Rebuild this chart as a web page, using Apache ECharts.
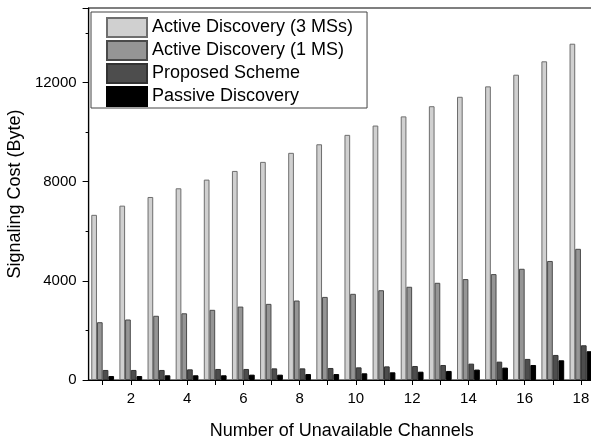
<!DOCTYPE html>
<html>
<head>
<meta charset="utf-8">
<script src="https://cdn.jsdelivr.net/npm/echarts@6/dist/echarts.min.js"></script>
<style>
html,body{margin:0;padding:0;background:#fff;}
#c{width:591px;height:438px;}
</style>
</head>
<body>
<div id="c"></div>
<script>
const categories = ['1','2','3','4','5','6','7','8','9','10','11','12','13','14','15','16','17','18'];
const active3 = [6660, 7030, 7380, 7730, 8080, 8430, 8795, 9160, 9505, 9885, 10260, 10630, 11040, 11420, 11840, 12310, 12850, 13560];
const active1 = [2330, 2440, 2590, 2690, 2830, 2960, 3070, 3205, 3350, 3475, 3620, 3760, 3920, 4070, 4270, 4485, 4800, 5290];
const proposed = [405, 405, 405, 430, 445, 445, 470, 470, 485, 510, 550, 565, 605, 660, 740, 850, 1010, 1400];
const passive = [160, 160, 190, 190, 190, 215, 215, 240, 240, 270, 310, 335, 365, 420, 500, 605, 795, 1160];
const yTicks = [0, 4000, 8000, 12000];

const font = 'Liberation Sans, Arial, sans-serif';
const chart = echarts.init(document.getElementById('c'), null, {renderer: 'canvas'});

function bar(name, data, fill, border) {
  return {
    name: name, type: 'bar', data: data,
    barWidth: 5.7, barGap: '0%',
    itemStyle: {color: fill, borderColor: border, borderWidth: 1},
    emphasis: {disabled: true}
  };
}

chart.setOption({
  animation: false,
  backgroundColor: '#fff',
  textStyle: {fontFamily: font, color: '#000'},
  grid: {left: 88.6, top: 8, right: -4, bottom: 58, show: true, borderColor: '#000', borderWidth: 1.2,
    containLabel: false, outerBoundsMode: 'none'},
  legend: {
    orient: 'vertical', left: 91, top: 12,
    padding: [5, 14, 1, 15],
    itemWidth: 40, itemHeight: 19, itemGap: 2,
    borderColor: '#444', borderWidth: 1, backgroundColor: '#fff',
    textStyle: {fontFamily: font, fontSize: 18, color: '#000'},
    icon: 'rect',
    data: ['Active Discovery (3 MSs)', 'Active Discovery (1 MS)', 'Proposed Scheme', 'Passive Discovery']
  },
  xAxis: {
    type: 'category', data: categories,
    name: 'Number of Unavailable Channels', nameLocation: 'middle', nameGap: 42,
    nameTextStyle: {fontFamily: font, fontSize: 18, color: '#000'},
    axisLine: {lineStyle: {color: '#000', width: 1.2}},
    axisTick: {show: true, interval: 0, alignWithLabel: true, length: 5, lineStyle: {color: '#000'}},
    axisLabel: {interval: function (i) { return i % 2 === 1; }, margin: 11, fontFamily: font, fontSize: 15, color: '#000'},
    splitLine: {show: false}
  },
  yAxis: {
    type: 'value', min: 0, max: 15000, interval: 4000,
    name: 'Signaling Cost (Byte)', nameLocation: 'middle', nameGap: 58, nameRotate: 90,
    nameTextStyle: {fontFamily: font, fontSize: 18, color: '#000'},
    axisLine: {show: true, lineStyle: {color: '#000', width: 1.2}},
    axisTick: {show: true, length: 6, lineStyle: {color: '#000'}},
    minorTick: {show: true, splitNumber: 2, length: 3, lineStyle: {color: '#000'}},
    axisLabel: {margin: 12, fontFamily: font, fontSize: 15, color: '#000', showMaxLabel: false,
      formatter: function (v) { return yTicks.indexOf(v) >= 0 ? String(v) : ''; }},
    splitLine: {show: false}
  },
  series: [
    bar('Active Discovery (3 MSs)', active3, '#d0d0d0', '#6e6e6e'),
    bar('Active Discovery (1 MS)', active1, '#959595', '#4a4a4a'),
    bar('Proposed Scheme', proposed, '#4d4d4d', '#333333'),
    bar('Passive Discovery', passive, '#000000', '#000000')
  ]
});
</script>
</body>
</html>
